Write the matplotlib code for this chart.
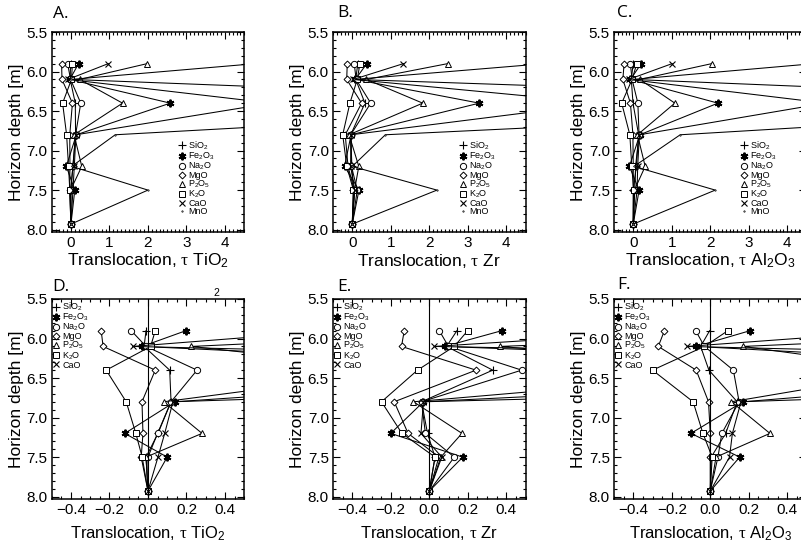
import matplotlib.pyplot as plt
from matplotlib.lines import Line2D
from matplotlib.ticker import MultipleLocator

plt.rcParams['font.family'] = ['Liberation Sans', 'DejaVu Sans']
plt.rcParams['mathtext.fontset'] = 'custom'
plt.rcParams['mathtext.rm'] = 'Liberation Sans'
plt.rcParams['mathtext.it'] = 'Liberation Serif'
plt.rcParams['mathtext.bf'] = 'Liberation Sans:bold'

# horizon depths [m], parent material at the bottom (tau = 0)
depths = [5.9, 6.1, 6.4, 6.8, 7.2, 7.5, 7.93]

oxides = ['SiO$_2$', 'Fe$_2$O$_3$', 'Na$_2$O', 'MgO', 'P$_2$O$_5$', 'K$_2$O', 'CaO', 'MnO']

# translocation, tau, one row per oxide (same order as oxides)
tau_tio2 = [
    [-0.01, -0.02, 0.113, 0.12, 0.052, -0.01, 0.0],
    [0.198, -0.03, 2.58, 0.14, -0.12, 0.10, 0.0],
    [-0.087, -0.01, 0.255, 0.12, 0.05, 0.0, 0.0],
    [-0.243, -0.233, 0.038, -0.031, -0.026, -0.035, 0.0],
    [1.98, 0.226, 1.34, 0.082, 0.281, -0.01, 0.0],
    [0.038, 0.014, -0.217, -0.113, -0.063, -0.03, 0.0],
    [0.97, -0.08, 5.2, 0.13, 0.087, 0.052, 0.0],
    [4.8, 0.0, 16.0, 1.15, 0.02, 2.0, 0.0],
]
tau_zr = [
    [0.144, 0.09, 0.33, -0.04, -0.009, 0.03, 0.0],
    [0.378, 0.08, 3.3, -0.03, -0.2, 0.174, 0.0],
    [0.052, 0.1, 0.48, -0.04, -0.02, 0.13, 0.0],
    [-0.13, -0.144, 0.243, -0.182, -0.11, 0.05, 0.0],
    [2.48, 0.368, 1.83, -0.082, 0.17, 0.06, 0.0],
    [0.20, 0.13, -0.061, -0.248, -0.142, 0.03, 0.0],
    [1.33, 0.026, 6.5, -0.03, -0.043, 0.065, 0.0],
    [5.0, 0.05, 18.0, 0.86, 0.0, 2.2, 0.0],
]
tau_al2o3 = [
    [-0.003, -0.05, -0.007, 0.14, 0.08, 0.005, 0.0],
    [0.208, -0.073, 2.2, 0.17, -0.1, 0.153, 0.0],
    [-0.076, -0.03, 0.12, 0.15, 0.06, 0.04, 0.0],
    [-0.238, -0.27, -0.073, -0.009, 0.0, 0.0, 0.0],
    [2.04, 0.17, 1.08, 0.11, 0.31, 0.03, 0.0],
    [0.092, -0.03, -0.30, -0.089, -0.038, 0.01, 0.0],
    [1.01, -0.12, 5.0, 0.16, 0.115, 0.10, 0.0],
    [4.7, -0.02, 15.0, 1.22, 0.02, 2.13, 0.0],
]

# marker style for each oxide
styles = [
    dict(marker='+', ms=5.5, mew=0.8),
    dict(marker=(6, 2, 0), ms=5.5, mew=1.4),
    dict(marker='o', ms=4.5, mew=0.7),
    dict(marker='D', ms=3.5, mew=0.7),
    dict(marker='^', ms=4.8, mew=0.7),
    dict(marker='s', ms=4.2, mew=0.7),
    dict(marker='x', ms=4.5, mew=0.8),
    dict(marker='.', ms=2, mew=0.5),
]

panels = [
    ('A.', tau_tio2, 'Translocation, $\\tau$ TiO$_2$', 0),
    ('B.', tau_zr, 'Translocation, $\\tau$ Zr', 0),
    ('C.', tau_al2o3, 'Translocation, $\\tau$ Al$_2$O$_3$', 0),
    ('D.', tau_tio2, 'Translocation, $\\tau$ TiO$_2$', 1),
    ('E.', tau_zr, 'Translocation, $\\tau$ Zr', 1),
    ('F.', tau_al2o3, 'Translocation, $\\tau$ Al$_2$O$_3$', 1),
]

W, H = 801, 549
fig = plt.figure(figsize=(W / 100, H / 100), dpi=100)
lefts = [51.7, 333, 614]
tops = [32, 299]
title_pos = [(53, 14), (337, 13), (617, 13), (52, 287), (337, 287), (617, 285)]

for k, (name, tau, xlabel, row) in enumerate(panels):
    col = k % 3
    ax = fig.add_axes([lefts[col] / W, 1 - (tops[row] + 200) / H, 192.5 / W, 200 / H])
    n = len(oxides) if row == 0 else len(oxides) - 1
    for i in range(n):
        ax.plot(tau[i], depths, color='k', lw=0.75, mfc='white', mec='k', **styles[i])
    handles = [Line2D([], [], ls='none', color='k', mfc='white', mec='k', **styles[i]) for i in range(n)]
    if row == 0:
        ax.set_xlim(-0.5, 4.5)
        ax.xaxis.set_major_locator(MultipleLocator(1))
        ax.xaxis.set_minor_locator(MultipleLocator(0.1))
        ax.legend(handles, oxides[:n], loc='upper left', bbox_to_anchor=(0.655, 0.462),
                  frameon=False, fontsize=6.5, borderpad=0, handlelength=0.9,
                  handletextpad=0.25, labelspacing=-0.12, borderaxespad=0)
    else:
        ax.axvline(0, color='k', lw=0.8)
        ax.set_xlim(-0.5, 0.5)
        ax.xaxis.set_minor_locator(MultipleLocator(0.05))
        ax.set_xticks([-0.4, -0.2, 0.0, 0.2, 0.4])
        ax.set_xticklabels(['\u22120.4', '\u22120.2', '0.0', '0.2', '0.4'])
        ax.legend(handles, oxides[:n], loc='upper left', bbox_to_anchor=(0.0, 0.99),
                  frameon=False, fontsize=6.5, borderpad=0, handlelength=0.9,
                  handletextpad=0.25, labelspacing=-0.12, borderaxespad=0)
    ax.set_ylim(8.03, 5.5)
    ax.yaxis.set_minor_locator(MultipleLocator(0.1))
    ax.set_yticks([5.5, 6.0, 6.5, 7.0, 7.5, 8.0])
    ax.set_yticklabels(['5.5', '6.0', '6.5', '7.0', '7.5', '8.0'])
    ax.tick_params(which='both', direction='in', top=True, right=True, width=0.8, labelsize=11, pad=3)
    ax.tick_params(which='major', length=5)
    ax.tick_params(which='minor', length=2.5)
    for s in ax.spines.values():
        s.set_linewidth(1.1)
    ax.set_ylabel('Horizon depth [m]', fontsize=12.5, labelpad=2)
    ax.set_xlabel(xlabel, fontsize=12.5 if row == 0 else 12, labelpad=1 if row == 0 else 5)
    tx, ty = title_pos[k]
    fig.text(tx / W, 1 - ty / H, name, fontsize=12.5, family=['Open Sans', 'DejaVu Sans'],
             ha='left', va='center')

# stray subscript left over in the source figure
fig.text(216 / W, 1 - 293 / H, '2', fontsize=7.5, ha='center', va='center')

fig.savefig('out.png', dpi=100)
